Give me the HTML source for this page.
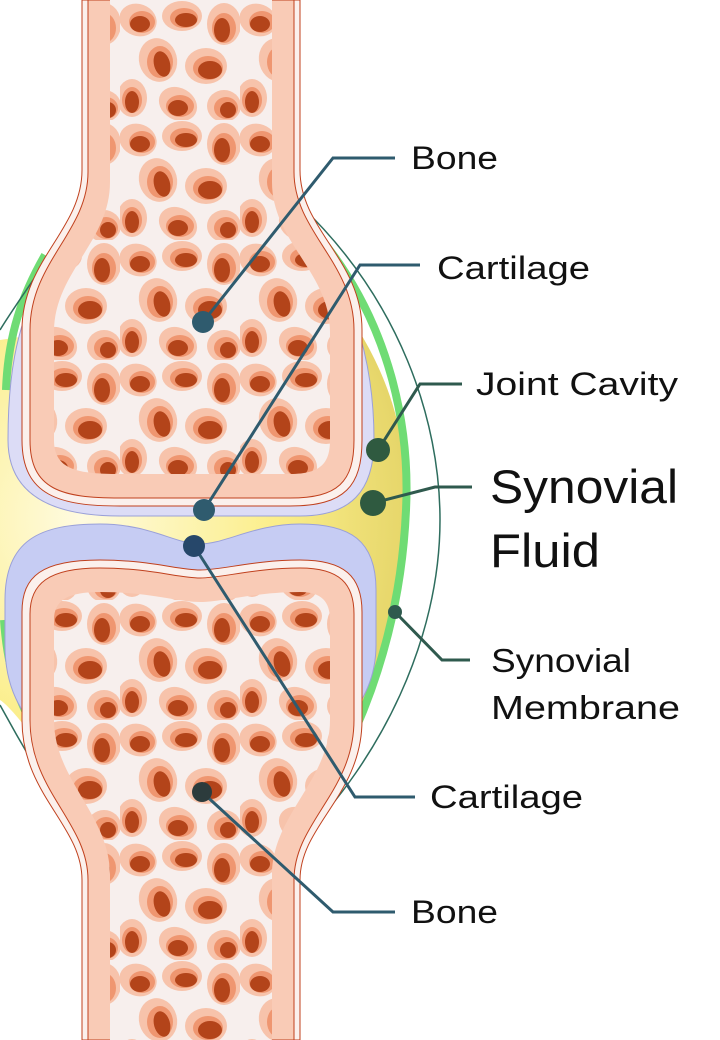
<!DOCTYPE html>
<html><head><meta charset="utf-8"><style>
html,body{margin:0;padding:0;background:#fff;width:720px;height:1040px;overflow:hidden}
text{font-family:"Liberation Sans",sans-serif;fill:#111}
</style></head><body>
<svg width="720" height="1040" viewBox="0 0 720 1040" xmlns="http://www.w3.org/2000/svg">
<defs>
<pattern id="sp" width="120" height="120" patternUnits="userSpaceOnUse">
<rect width="120" height="120" fill="#f7efed"/>
<g fill="#f7c3ab">
<ellipse cx="18" cy="20" rx="19" ry="16" transform="rotate(20 18 20)"/>
<ellipse cx="62" cy="16" rx="20" ry="15"/>
<ellipse cx="104" cy="24" rx="17" ry="21"/>
<ellipse cx="38" cy="60" rx="19" ry="22" transform="rotate(-15 38 60)"/>
<ellipse cx="86" cy="66" rx="21" ry="18"/>
<ellipse cx="12" cy="98" rx="15" ry="19"/>
<ellipse cx="58" cy="104" rx="20" ry="16" transform="rotate(30 58 104)"/>
<ellipse cx="104" cy="106" rx="17" ry="16"/>
</g>
<g fill="#ef9670">
<ellipse cx="22" cy="22" rx="13" ry="11"/>
<ellipse cx="64" cy="18" rx="14" ry="10"/>
<ellipse cx="104" cy="28" rx="12" ry="15"/>
<ellipse cx="40" cy="62" rx="13" ry="16"/>
<ellipse cx="88" cy="68" rx="15" ry="12"/>
<ellipse cx="12" cy="100" rx="10" ry="13"/>
<ellipse cx="60" cy="106" rx="14" ry="11"/>
<ellipse cx="106" cy="108" rx="12" ry="11"/>
</g>
<g fill="#b3441a">
<ellipse cx="20" cy="24" rx="10" ry="8"/>
<ellipse cx="66" cy="20" rx="11" ry="7"/>
<ellipse cx="102" cy="30" rx="8" ry="12"/>
<ellipse cx="42" cy="64" rx="8" ry="13" transform="rotate(-15 42 64)"/>
<ellipse cx="90" cy="70" rx="12" ry="9"/>
<ellipse cx="12" cy="102" rx="7" ry="11"/>
<ellipse cx="58" cy="108" rx="10" ry="8"/>
<ellipse cx="108" cy="110" rx="8" ry="8"/>
</g>
</pattern>
<radialGradient id="yl" cx="0.2" cy="0.5" r="0.8"><stop offset="0" stop-color="#fffbe0"/><stop offset="0.6" stop-color="#fbee8a"/><stop offset="1" stop-color="#e6d66a"/></radialGradient>
</defs>
<path d="M0,340 L330,290 C395,370 410,450 406,520 C402,600 380,680 340,745 L40,745 C20,720 8,705 0,700 Z" fill="url(#yl)"/>
<path d="M318,235 C392,325 410,430 406,510 C402,600 380,680 345,752" fill="none" stroke="#6fdc74" stroke-width="8"/>
<path d="M45,255 C22,295 8,335 6,390" fill="none" stroke="#6fdc74" stroke-width="8"/>
<path d="M4,620 C8,680 25,720 50,750" fill="none" stroke="#6fdc74" stroke-width="8"/>
<g fill="none" stroke="#2e6d5e" stroke-width="1.5">
<path d="M300,205 C400,300 440,420 440,520 C440,640 380,760 300,840"/>
<path d="M75,215 C45,265 15,305 0,330"/>
<path d="M0,705 C30,760 55,800 80,840"/>
</g>
<path d="M40,280 C15,330 8,380 8,440 C8,500 60,516 120,516 L300,516 C350,516 374,492 374,440 C374,380 362,320 330,265 Z" fill="#dcdcf6" stroke="#9aa0d8" stroke-width="1"/>
<path d="M82,0 L82,170 C82,230 22,260 22,330 L22,440 C22,496 60,506 120,506 L290,506 C345,506 362,486 362,440 L362,330 C362,260 300,230 300,170 L300,0 Z" fill="#fbf0ec" stroke="#c0401d" stroke-width="1"/>
<path d="M88,0 L88,172 C88,232 30,262 30,330 L30,440 C30,490 62,498 120,498 L290,498 C338,498 354,482 354,440 L354,330 C354,262 294,232 294,172 L294,0 Z" fill="#f9cbb6" stroke="#c0401d" stroke-width="1"/>
<path d="M110,0 L110,182 C110,242 54,272 54,332 L54,440 C54,470 78,474 120,474 L290,474 C322,474 330,462 330,440 L330,332 C330,272 272,242 272,182 L272,0 Z" fill="url(#sp)"/>
<path d="M5,600 C5,540 40,524 100,524 C150,524 175,544 200,544 C225,544 255,524 300,524 C350,524 376,540 376,590 L376,645 C376,690 352,712 340,735 L40,735 C22,712 5,690 5,645 Z" fill="#c6ccf3" stroke="#9aa0d8" stroke-width="1"/>
<path d="M22,612 C22,576 42,560 100,560 C150,560 178,570 200,570 C222,570 255,560 300,560 C344,560 362,576 362,612 L362,720 C362,795 300,825 300,880 L300,1040 L82,1040 L82,880 C82,825 22,795 22,720 Z" fill="#fbf0ec" stroke="#c0401d" stroke-width="1"/>
<path d="M30,614 C30,584 48,568 100,568 C150,568 178,578 200,578 C222,578 255,568 300,568 C340,568 354,584 354,614 L354,720 C354,792 294,822 294,880 L294,1040 L88,1040 L88,880 C88,822 30,792 30,720 Z" fill="#f9cbb6" stroke="#c0401d" stroke-width="1"/>
<path d="M54,620 C54,600 68,592 100,592 C150,592 178,602 200,602 C222,602 255,592 300,592 C322,592 330,602 330,620 L330,720 C330,780 272,815 272,875 L272,1040 L110,1040 L110,875 C110,815 54,780 54,720 Z" fill="url(#sp)"/>
<g fill="none" stroke="#2f5b6e" stroke-width="3">
<polyline points="203,322 333,158 395,158"/>
<polyline points="204,510 360,265 420,265"/>
<polyline points="194,546 355,797 415,797"/>
<polyline points="202,792 333,912 395,912"/>
</g>
<g fill="none" stroke="#2f5a4e" stroke-width="3">
<polyline points="378,450 420,384 462,384"/>
<polyline points="373,503 435,487 472,487"/>
<polyline points="395,612 442,660 470,660"/>
</g>
<circle cx="203" cy="322" r="11" fill="#2f5b6e"/>
<circle cx="204" cy="510" r="11" fill="#2f5b6e"/>
<circle cx="194" cy="546" r="11" fill="#26476a"/>
<circle cx="202" cy="792" r="10" fill="#2c3b3c"/>
<circle cx="378" cy="450" r="12" fill="#2f5a40"/>
<circle cx="373" cy="503" r="13" fill="#2f5a40"/>
<circle cx="395" cy="612" r="7" fill="#2f5a4e"/>
<text x="411" y="169" font-size="32" textLength="87" lengthAdjust="spacingAndGlyphs">Bone</text>
<text x="437" y="279" font-size="32" textLength="153" lengthAdjust="spacingAndGlyphs">Cartilage</text>
<text x="476" y="395" font-size="32" textLength="202" lengthAdjust="spacingAndGlyphs">Joint Cavity</text>
<text x="490" y="503" font-size="47" textLength="188" lengthAdjust="spacingAndGlyphs">Synovial</text>
<text x="490" y="567" font-size="47" textLength="110" lengthAdjust="spacingAndGlyphs">Fluid</text>
<text x="491" y="672" font-size="33" textLength="140" lengthAdjust="spacingAndGlyphs">Synovial</text>
<text x="491" y="719" font-size="33" textLength="189" lengthAdjust="spacingAndGlyphs">Membrane</text>
<text x="430" y="808" font-size="32" textLength="153" lengthAdjust="spacingAndGlyphs">Cartilage</text>
<text x="411" y="923" font-size="32" textLength="87" lengthAdjust="spacingAndGlyphs">Bone</text>
</svg>
</body></html>
